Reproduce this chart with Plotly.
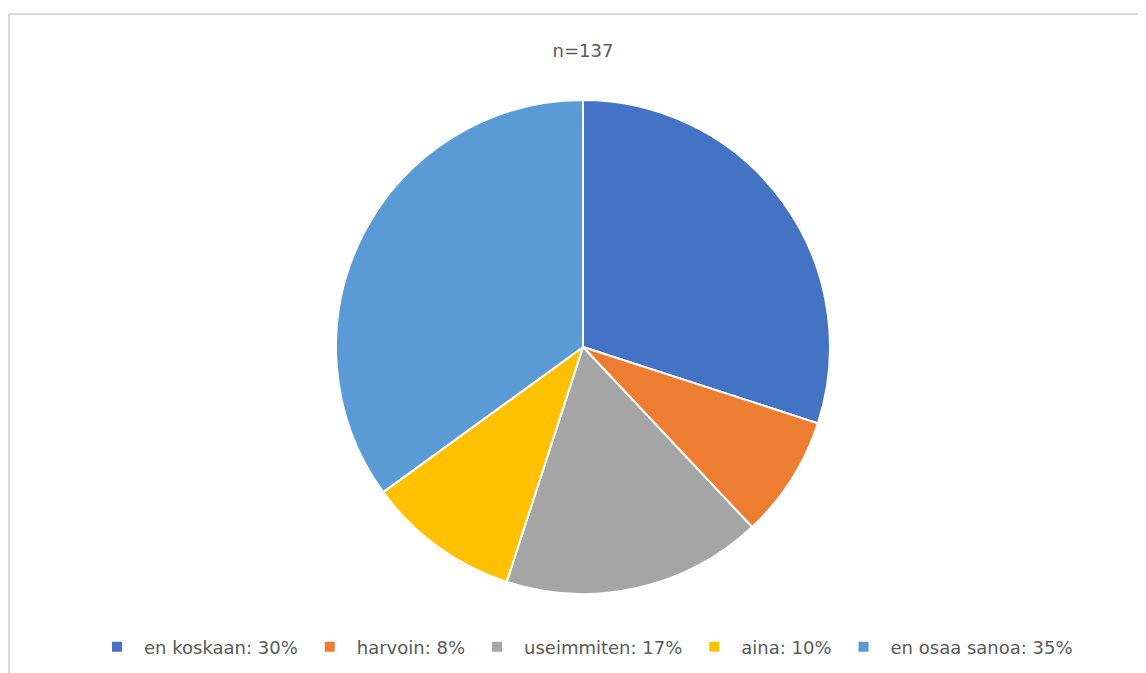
import plotly.graph_objects as go

categories = ["en koskaan", "harvoin", "useimmiten", "aina", "en osaa sanoa"]
percentages = [30, 8, 17, 10, 35]
colors = ["#4472C4", "#ED7D31", "#A5A5A5", "#FFC000", "#5B9BD5"]
title_text = "n=137"

W, H = 1146, 673
OFF = 8  # page body margin
cx, cy, r = 583 - OFF, 347 - OFF, 247

labels = [f"{c}: {p}%" for c, p in zip(categories, percentages)]

fig = go.Figure(go.Pie(
    labels=labels,
    values=percentages,
    sort=False,
    direction="clockwise",
    rotation=0,
    marker=dict(colors=colors, line=dict(color="white", width=2)),
    textinfo="none",
    hoverinfo="label",
    domain=dict(x=[(cx - r) / W, (cx + r) / W], y=[1 - (cy + r) / H, 1 - (cy - r) / H]),
))

fig.update_layout(
    width=W, height=H,
    margin=dict(l=0, r=0, t=0, b=0),
    paper_bgcolor="white",
    font=dict(family="DejaVu Sans, sans-serif", color="#595959", size=18),
    title=dict(text=title_text, x=(583 - OFF) / W, xanchor="center", y=1 - (51 - OFF) / H, yanchor="middle",
               font=dict(size=18, color="#595959")),
    legend=dict(orientation="h", x=(584 - OFF) / W, xanchor="center", y=1 - (647 - OFF) / H, yanchor="middle",
                font=dict(size=18, color="#595959"), itemwidth=44, traceorder="normal"),
    shapes=[
        dict(type="line", xref="paper", yref="paper", x0=1 / W, x1=1, y0=1 - (14 - OFF) / H, y1=1 - (14 - OFF) / H,
             line=dict(color="#D9D9D9", width=2)),
        dict(type="line", xref="paper", yref="paper", x0=1 / W, x1=1 / W, y0=0, y1=1 - (14 - OFF) / H,
             line=dict(color="#D9D9D9", width=2)),
    ],
)

fig.write_html("out.html")
